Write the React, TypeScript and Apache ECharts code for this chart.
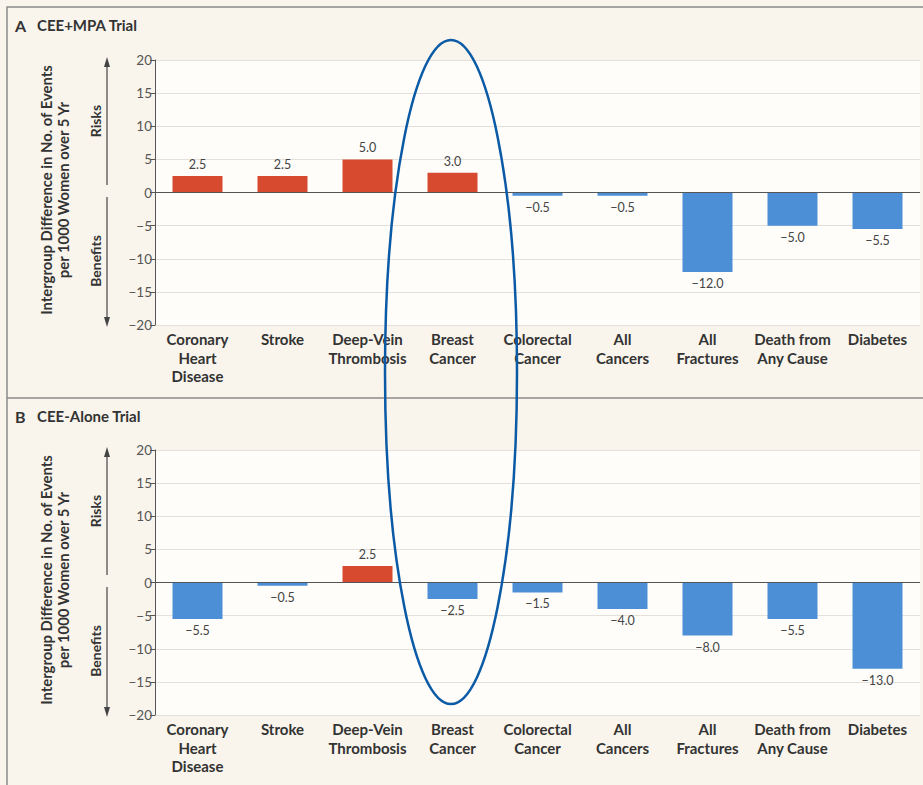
import React, { useEffect, useRef } from "react";
import * as echarts from "echarts";

const categories = [
  "Coronary\nHeart\nDisease",
  "Stroke",
  "Deep-Vein\nThrombosis",
  "Breast\nCancer",
  "Colorectal\nCancer",
  "All\nCancers",
  "All\nFractures",
  "Death from\nAny Cause",
  "Diabetes",
];
const valuesA = [2.5, 2.5, 5.0, 3.0, -0.5, -0.5, -12.0, -5.0, -5.5];
const valuesB = [-5.5, -0.5, 2.5, -2.5, -1.5, -4.0, -8.0, -5.5, -13.0];
const panelTitles = ["CEE+MPA Trial", "CEE-Alone Trial"];
const panelLetters = ["A", "B"];

const RED = "#d84a30";
const BLUE = "#4d8fd6";
const FONT = "Lato, 'Open Sans', sans-serif";

const minus = (s: string) => s.replace("-", "\u2212");

export default function App() {
  const ref = useRef<HTMLDivElement>(null);
  useEffect(() => {
    if (!ref.current) return;
    const chart = echarts.init(ref.current, undefined, { renderer: "svg" });
    const gridTops = [60, 450];
    const gridH = 265;
    const mkSeries = (vals: number[], idx: number) => ({
      type: "bar",
      xAxisIndex: idx,
      yAxisIndex: idx,
      barWidth: 50,
      data: vals.map((v) => ({
        value: v,
        itemStyle: { color: v >= 0 ? RED : BLUE },
        label: {
          show: true,
          position: v >= 0 ? "top" : "bottom",
          distance: 5,
          formatter: () => minus(v.toFixed(1)),
          color: "#444",
          fontSize: 12.5,
          fontFamily: FONT,
        },
      })),
      markLine: {
        silent: true,
        symbol: "none",
        label: { show: false },
        lineStyle: { color: "#555", width: 1, type: "solid" },
        data: [{ yAxis: 0 }],
      },
    });
    const graphics: any[] = [
      {
        type: "rect",
        shape: { x: 7, y: 7, width: 930, height: 800 },
        style: { fill: "none", stroke: "#8a8a8a", lineWidth: 1.5 },
        z: 1,
      },
      {
        type: "line",
        shape: { x1: 7, y1: 398, x2: 923, y2: 398 },
        style: { stroke: "#8a8a8a", lineWidth: 1.5 },
        z: 1,
      },
    ];
    [0, 1].forEach((i) => {
      const top = gridTops[i];
      const panelTop = i === 0 ? 7 : 398;
      graphics.push({
        type: "text",
        x: 15,
        y: panelTop + 18,
        style: {
          text: panelLetters[i],
          font: `bold 16px ${FONT}`,
          fill: "#333",
          textVerticalAlign: "middle",
        },
      });
      graphics.push({
        type: "text",
        x: 37,
        y: panelTop + 18,
        style: {
          text: panelTitles[i],
          font: `bold 15px ${FONT}`,
          fill: "#333",
          textVerticalAlign: "middle",
        },
      });
      graphics.push({
        type: "text",
        x: 46,
        y: top + 130,
        rotation: Math.PI / 2,
        style: {
          text: "Intergroup Difference in No. of Events",
          font: `bold 14.8px ${FONT}`,
          fill: "#333",
          textAlign: "center",
          textVerticalAlign: "middle",
        },
      });
      graphics.push({
        type: "text",
        x: 63,
        y: top + 130,
        rotation: Math.PI / 2,
        style: {
          text: "per 1000 Women over 5 Yr",
          font: `bold 14.8px ${FONT}`,
          fill: "#333",
          textAlign: "center",
          textVerticalAlign: "middle",
        },
      });
      graphics.push({
        type: "text",
        x: 95,
        y: top + 61,
        rotation: Math.PI / 2,
        style: {
          text: "Risks",
          font: `bold 14px ${FONT}`,
          fill: "#333",
          textAlign: "center",
          textVerticalAlign: "middle",
        },
      });
      graphics.push({
        type: "text",
        x: 95,
        y: top + 201,
        rotation: Math.PI / 2,
        style: {
          text: "Benefits",
          font: `bold 14px ${FONT}`,
          fill: "#333",
          textAlign: "center",
          textVerticalAlign: "middle",
        },
      });
      graphics.push({
        type: "line",
        shape: { x1: 107, y1: top + 4, x2: 107, y2: top + 125 },
        style: { stroke: "#444", lineWidth: 1.2 },
      });
      graphics.push({
        type: "polygon",
        shape: { points: [[107, top - 3], [104, top + 7], [110, top + 7]] },
        style: { fill: "#444" },
      });
      graphics.push({
        type: "line",
        shape: { x1: 107, y1: top + 137, x2: 107, y2: top + 259 },
        style: { stroke: "#444", lineWidth: 1.2 },
      });
      graphics.push({
        type: "polygon",
        shape: { points: [[107, top + 267], [104, top + 257], [110, top + 257]] },
        style: { fill: "#444" },
      });
    });
    graphics.push({
      type: "ellipse",
      shape: { cx: 451, cy: 372, rx: 66, ry: 332 },
      style: { fill: "none", stroke: "#0b5aa6", lineWidth: 2.5 },
      z: 100,
    });

    const mkX = (gi: number) => ({
      type: "category",
      gridIndex: gi,
      data: categories,
      axisLine: { show: false },
      axisTick: { show: false },
      axisLabel: {
        interval: 0,
        margin: 5,
        color: "#333",
        fontWeight: "bold",
        fontSize: 15,
        lineHeight: 18.5,
        fontFamily: FONT,
        verticalAlign: "top",
      },
    });
    const mkY = (gi: number) => ({
      type: "value",
      gridIndex: gi,
      min: -20,
      max: 20,
      interval: 5,
      axisLine: { show: true, lineStyle: { color: "#555", width: 1 } },
      axisTick: { show: true, inside: false, length: 5, lineStyle: { color: "#555" } },
      axisLabel: {
        color: "#555",
        fontSize: 13.5,
        margin: 3,
        fontFamily: FONT,
        formatter: (v: number) => (v < 0 ? "\u2212" + Math.abs(v) : String(v)),
      },
      splitLine: { show: true, lineStyle: { color: "#e4e1dc", width: 1 } },
    });

    chart.setOption({
      animation: false,
      backgroundColor: "#f9f5ec",
      textStyle: { fontFamily: FONT },
      grid: gridTops.map((t) => ({
        left: 155,
        top: t,
        width: 765,
        height: gridH,
        show: true,
        backgroundColor: "#fefdfa",
        borderWidth: 0,
        containLabel: false,
      })),
      xAxis: [mkX(0), mkX(1)],
      yAxis: [mkY(0), mkY(1)],
      series: [mkSeries(valuesA, 0), mkSeries(valuesB, 1)],
      graphic: graphics,
    });
    return () => chart.dispose();
  }, []);
  return (
    <div
      ref={ref}
      style={{ position: "fixed", left: 0, top: 0, width: 923, height: 785 }}
    />
  );
}
